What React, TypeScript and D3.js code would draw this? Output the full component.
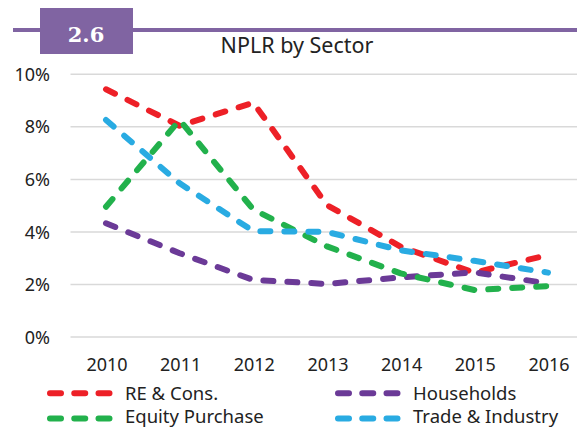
import React from "react";
import * as d3 from "d3";

const years = ["2010", "2011", "2012", "2013", "2014", "2015", "2016"];
const reCons = [9.43, 8.04, 8.92, 5.02, 3.44, 2.45, 3.12];
const households = [4.33, 3.19, 2.17, 2.02, 2.27, 2.46, 2.04];
const equityPurchase = [4.96, 8.26, 4.85, 3.45, 2.42, 1.79, 1.94];
const tradeIndustry = [8.26, 5.85, 4.03, 4.0, 3.3, 2.9, 2.45];
const yTicks = [0, 2, 4, 6, 8, 10];

const series = [
    { name: "RE & Cons.", values: reCons, color: "#ED2027" },
    { name: "Households", values: households, color: "#6B3A97" },
    { name: "Equity Purchase", values: equityPurchase, color: "#22B14C" },
    { name: "Trade & Industry", values: tradeIndustry, color: "#29ABE2" },
];

const font = "'Noto Sans', sans-serif";

export default function App() {
    const width = 577, height = 427;

    // plot area
    const x = d3.scalePoint().domain(years).range([106, 548]);
    const y = d3.scaleLinear().domain([0, 10]).range([337, 74.3]);

    const line = d3.line<number>()
        .x((d, i) => x(years[i]) as number)
        .y(d => y(d));

    // legend: 2 columns x 2 rows, drawn in series order
    const legendPos = [
        { x: 47, y: 393.3, ty: 6.5 },
        { x: 335, y: 393.3, ty: 6.5 },
        { x: 47, y: 418.5, ty: 4 },
        { x: 335, y: 418.5, ty: 4 },
    ];

    return (
        <svg width={width} height={height}
            style={{ position: "absolute", left: 0, top: 0, background: "#fff" }}>
            {/* header band */}
            <rect x={13} y={28} width={width - 13} height={4} fill="#8064A2" />
            <rect x={40} y={8} width={93} height={46} fill="#8064A2" />
            <text x={86} y={41.5} textAnchor="middle" fill="#fff"
                fontFamily="'DejaVu Serif', serif" fontWeight="bold" fontSize={21}>2.6</text>
            <text x={297} y={53} textAnchor="middle" fill="#222"
                fontFamily={font} fontSize={21.5}>NPLR by Sector</text>

            {/* gridlines + y labels */}
            {yTicks.map(t => (
                <g key={t}>
                    <line x1={70.5} x2={width} y1={y(t)} y2={y(t)} stroke="#D9D9D9" strokeWidth={1.5} />
                    <text x={50} y={y(t) + 6.6} textAnchor="end" fill="#222"
                        fontFamily={font} fontSize={18}>{t}%</text>
                </g>
            ))}

            {/* x labels */}
            {years.map(yr => (
                <text key={yr} x={(x(yr) as number) + 1} y={371} textAnchor="middle" fill="#222"
                    fontFamily={font} fontSize={18}>{yr}</text>
            ))}

            {/* lines */}
            {series.map(s => (
                <path key={s.name} d={line(s.values) || ""} fill="none" stroke={s.color}
                    strokeWidth={6} strokeDasharray="10 14" strokeLinecap="round" strokeLinejoin="round" />
            ))}

            {/* legend */}
            {series.map((s, i) => (
                <g key={s.name} transform={`translate(${legendPos[i].x},${legendPos[i].y})`}>
                    <line x1={3} x2={62.5} y1={0} y2={0} stroke={s.color} strokeWidth={6}
                        strokeDasharray="11 13.25" strokeLinecap="round" />
                    <text x={78} y={legendPos[i].ty} fill="#222" fontFamily={font} fontSize={18.5}>{s.name}</text>
                </g>
            ))}
        </svg>
    );
}
